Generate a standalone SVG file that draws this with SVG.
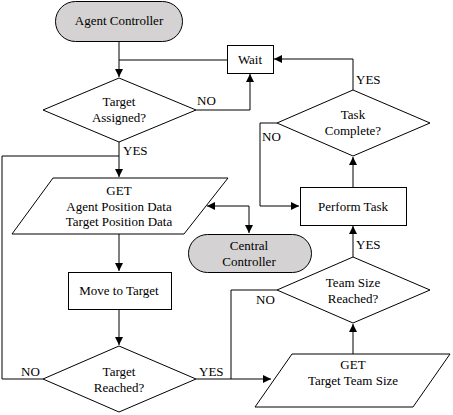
<svg xmlns="http://www.w3.org/2000/svg" width="453" height="415" viewBox="0 0 453 415">
<defs>
<marker id="arr" viewBox="0 0 10 10" refX="10" refY="5" markerWidth="8" markerHeight="8" markerUnits="userSpaceOnUse" orient="auto-start-reverse">
<path d="M0,0 L10,5 L0,10 Z" fill="#000"/>
</marker>
</defs>
<style>
.shape{fill:#fff;stroke:#000;stroke-width:1}
.term{fill:#d4d2d2;stroke:#000;stroke-width:1}
text{font-size:13px;fill:#000;text-anchor:middle}
.lbl{text-anchor:start}
.c{fill:none;stroke:#000;stroke-width:1}
</style>
<rect width="453" height="415" fill="#fff"/>
<g font-family="'Liberation Serif', 'Times New Roman', Times, serif">
<g id="connectors">
<path class="c" d="M119,41 V77" marker-end="url(#arr)"/>
<path class="c" d="M119,60 H227"/>
<path class="c" d="M196,110 H250 V74" marker-end="url(#arr)"/>
<path class="c" d="M353,90 V59 H274" marker-end="url(#arr)"/>
<path class="c" d="M277,123 H260 V206 H299" marker-end="url(#arr)"/>
<path class="c" d="M353,187 V157" marker-end="url(#arr)"/>
<path class="c" d="M353,257 V226" marker-end="url(#arr)"/>
<path class="c" d="M353,354 V324" marker-end="url(#arr)"/>
<path class="c" d="M277,290 H231 V379"/>
<path class="c" d="M196,379 H271" marker-end="url(#arr)"/>
<path class="c" d="M119,142 V177" marker-end="url(#arr)"/>
<path class="c" d="M43,379 H2 V156 H119"/>
<path class="c" d="M119,234 V271" marker-end="url(#arr)"/>
<path class="c" d="M119,309 V345" marker-end="url(#arr)"/>
<path class="c" d="M207,206 H249 V233" marker-start="url(#arr)" marker-end="url(#arr)"/>
<text class="lbl" x="197" y="105">NO</text>
<text class="lbl" x="356" y="84">YES</text>
<text class="lbl" x="262" y="141">NO</text>
<text class="lbl" x="356" y="249">YES</text>
<text class="lbl" x="256" y="304">NO</text>
<text class="lbl" x="123" y="155">YES</text>
<text class="lbl" x="21" y="376">NO</text>
<text class="lbl" x="199" y="376">YES</text>
</g>
<g id="agent-controller">
<rect class="term" x="55.5" y="1.5" width="127" height="40" rx="20"/>
<text x="119" y="25">Agent Controller</text>
</g>
<g id="wait">
<rect class="shape" x="227.5" y="45.5" width="46" height="28"/>
<text x="250" y="64">Wait</text>
</g>
<g id="target-assigned">
<path class="shape" d="M119,78 L196,110 L119,142 L43,110 Z"/>
<text x="119" y="106">Target</text>
<text x="119" y="122">Assigned?</text>
</g>
<g id="task-complete">
<path class="shape" d="M353,90 L430,123 L353,156 L277,123 Z"/>
<text x="353" y="119">Task</text>
<text x="353" y="135">Complete?</text>
</g>
<g id="perform-task">
<rect class="shape" x="300.5" y="187.5" width="106" height="38"/>
<text x="353" y="211">Perform  Task</text>
</g>
<g id="get-agent-data">
<path class="shape" d="M53,178 L228,178 L184,234 L12,234 Z"/>
<text x="119" y="195">GET</text>
<text x="119" y="211">Agent Position Data</text>
<text x="119" y="226">Target Position Data</text>
</g>
<g id="central-controller">
<rect class="term" x="188.5" y="234.5" width="123" height="38" rx="19"/>
<text x="249" y="250">Central</text>
<text x="249" y="266">Controller</text>
</g>
<g id="move-to-target">
<rect class="shape" x="68.5" y="272.5" width="103" height="37"/>
<text x="119" y="295">Move to Target</text>
</g>
<g id="target-reached">
<path class="shape" d="M119,346 L196,379 L119,412 L43,379 Z"/>
<text x="119" y="376">Target</text>
<text x="119" y="392">Reached?</text>
</g>
<g id="team-size-reached">
<path class="shape" d="M353,257 L430,290 L353,323 L277,290 Z"/>
<text x="353" y="287">Team  Size</text>
<text x="353" y="303">Reached?</text>
</g>
<g id="get-team-size">
<path class="shape" d="M292,354 L450,354 L413,407 L255,407 Z"/>
<text x="353" y="369">GET</text>
<text x="353" y="385">Target Team  Size</text>
</g>
</g>
</svg>
